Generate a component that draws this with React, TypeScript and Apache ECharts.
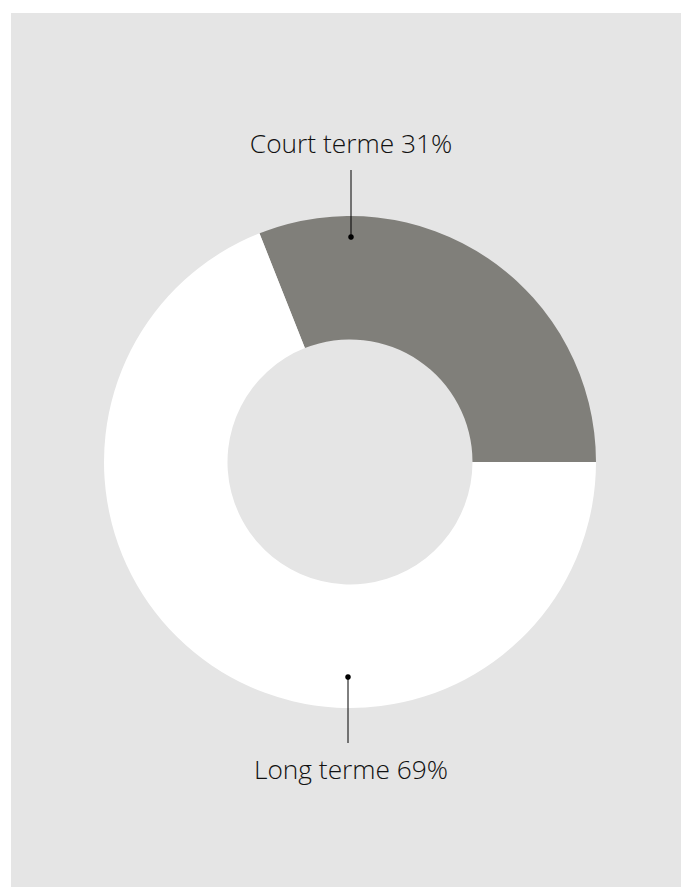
import React, { useEffect, useRef } from "react";
import * as echarts from "echarts";

const categories = ["Court terme", "Long terme"];
const values = [31, 69];
const colors = ["#807f7a", "#ffffff"];

export default function App() {
  const ref = useRef<HTMLDivElement>(null);
  useEffect(() => {
    if (!ref.current) return;
    const chart = echarts.init(ref.current, undefined, { renderer: "svg" });
    const total = values.reduce((a, b) => a + b, 0);
    const startAngle = (values[0] / total) * 360;
    const cx = 339;
    const cy = 449;
    const textStyle = {
      fontFamily: "'Open Sans', sans-serif",
      fontWeight: 300,
      fontSize: 26.3,
      fill: "#111111",
      textAlign: "center",
      textVerticalAlign: "middle",
    };
    chart.setOption({
      animation: false,
      backgroundColor: "#e5e5e5",
      series: [
        {
          type: "pie",
          center: [cx, cy],
          radius: [122.5, 246],
          startAngle,
          clockwise: true,
          silent: true,
          z: 1,
          label: { show: false },
          labelLine: { show: false },
          emphasis: { disabled: true },
          data: categories.map((c, i) => ({
            name: c,
            value: values[i],
            itemStyle: { color: colors[i] },
          })),
        },
      ],
      graphic: {
        elements: [
          {
            type: "text",
            x: cx + 1,
            y: 130,
            z: 100,
            style: { ...textStyle, text: `${categories[0]} ${values[0]}%` },
          },
          {
            type: "line",
            z: 100,
            shape: { x1: cx + 1, y1: 157, x2: cx + 1, y2: 224 },
            style: { stroke: "#000000", lineWidth: 1 },
          },
          {
            type: "circle",
            z: 101,
            shape: { cx: cx + 1, cy: 224, r: 2.8 },
            style: { fill: "#000" },
          },
          {
            type: "circle",
            z: 101,
            shape: { cx: cx - 2, cy: 664, r: 2.8 },
            style: { fill: "#000" },
          },
          {
            type: "line",
            z: 100,
            shape: { x1: cx - 2, y1: 664, x2: cx - 2, y2: 730 },
            style: { stroke: "#000000", lineWidth: 1 },
          },
          {
            type: "text",
            x: cx + 1,
            y: 756,
            z: 100,
            style: { ...textStyle, text: `${categories[1]} ${values[1]}%` },
          },
        ],
      },
    });
    return () => chart.dispose();
  }, []);
  return (
    <div
      ref={ref}
      style={{ position: "fixed", left: 11, top: 13, width: 670, height: 874 }}
    />
  );
}
